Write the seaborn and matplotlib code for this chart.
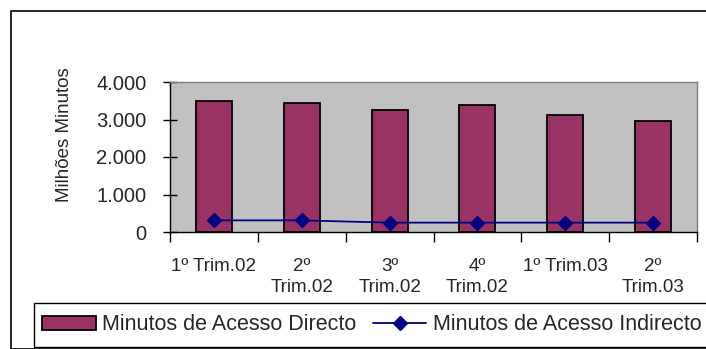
import matplotlib
matplotlib.use("Agg")
import matplotlib.pyplot as plt
from matplotlib.patches import Rectangle, Patch
from matplotlib.lines import Line2D
import seaborn as sns
import pandas as pd

# data
trimestres = ["1º Trim.02", "2º Trim.02", "3º Trim.02", "4º Trim.02", "1º Trim.03", "2º Trim.03"]
tick_labels = ["1º Trim.02", "2º\nTrim.02", "3º\nTrim.02", "4º\nTrim.02", "1º Trim.03", "2º\nTrim.03"]
acesso_directo = [3500, 3440, 3245, 3400, 3130, 2970]
acesso_indirecto = [310, 310, 250, 250, 250, 250]
y_ticks = [0, 1000, 2000, 3000, 4000]
y_tick_labels = ["0", "1.000", "2.000", "3.000", "4.000"]

df = pd.DataFrame({"trim": trimestres,
                   "directo": acesso_directo,
                   "indirecto": acesso_indirecto})

sns.set_style("white")
plt.rcParams["font.family"] = ["Liberation Sans", "DejaVu Sans"]

W, H = 706, 349
fig = plt.figure(figsize=(W / 100, H / 100), dpi=100)
ax = fig.add_axes([170 / W, 1 - 232 / H, (697 - 170) / W, (232 - 82) / H])
ax.set_facecolor("#C0C0C0")

sns.barplot(data=df, x="trim", y="directo", order=trimestres,
            color="#993366", edgecolor="black", linewidth=1.3,
            width=0.41, saturation=1, ax=ax)
ax.plot(range(len(trimestres)), df["indirecto"], color="#000080",
        linewidth=1.3, marker="D", markersize=7, zorder=5)

ax.set_xlim(-0.5, len(trimestres) - 0.5)
ax.set_ylim(0, 4000)
ax.set_yticks(y_ticks)
ax.set_yticklabels(y_tick_labels, fontsize=14.5)
ax.set_xticks(range(len(trimestres)))
ax.set_xticklabels(tick_labels, fontsize=13.5, linespacing=1.25)
# category boundary ticks on the x axis
ax.set_xticks([i - 0.5 for i in range(len(trimestres) + 1)], minor=True)
ax.tick_params(axis="x", which="major", bottom=True, length=0, pad=19)
ax.tick_params(axis="x", which="minor", bottom=True, direction="out",
               length=7, width=1, color="black")
ax.tick_params(axis="y", left=True, direction="inout", length=10, width=1,
               pad=12, color="black")
ax.set_xlabel("")
ax.set_ylabel("Milhões Minutos", fontsize=13.5)
ax.yaxis.set_label_coords(-0.184, 0.647)

for side in ["top", "right"]:
    ax.spines[side].set_color("#808080")
    ax.spines[side].set_linewidth(1)
for side in ["left", "bottom"]:
    ax.spines[side].set_color("black")
    ax.spines[side].set_linewidth(1)

# outer chart frame and legend box
fig.patches.append(Rectangle((11 / W, 0), 1.2, 1 - 11 / H, transform=fig.transFigure,
                             fill=False, edgecolor="black", linewidth=1.2))
fig.patches.append(Rectangle((34 / W, 1 - 347 / H), 1.2, (347 - 303) / H,
                             transform=fig.transFigure, fill=False,
                             edgecolor="black", linewidth=1))

handles = [Patch(facecolor="#993366", edgecolor="black", linewidth=1.3),
           Line2D([], [], color="#000080", linewidth=1.3, marker="D", markersize=7)]
fig.legend(handles, ["Minutos de Acesso Directo", "Minutos de Acesso Indirecto"],
           loc="center left", bbox_to_anchor=(42 / W, 1 - 325 / H), ncol=2,
           frameon=False, fontsize=15.5, handlelength=2.5, handleheight=0.65,
           handletextpad=0.3, columnspacing=0.75, borderpad=0, borderaxespad=0)

fig.savefig("out.png", dpi=100)
